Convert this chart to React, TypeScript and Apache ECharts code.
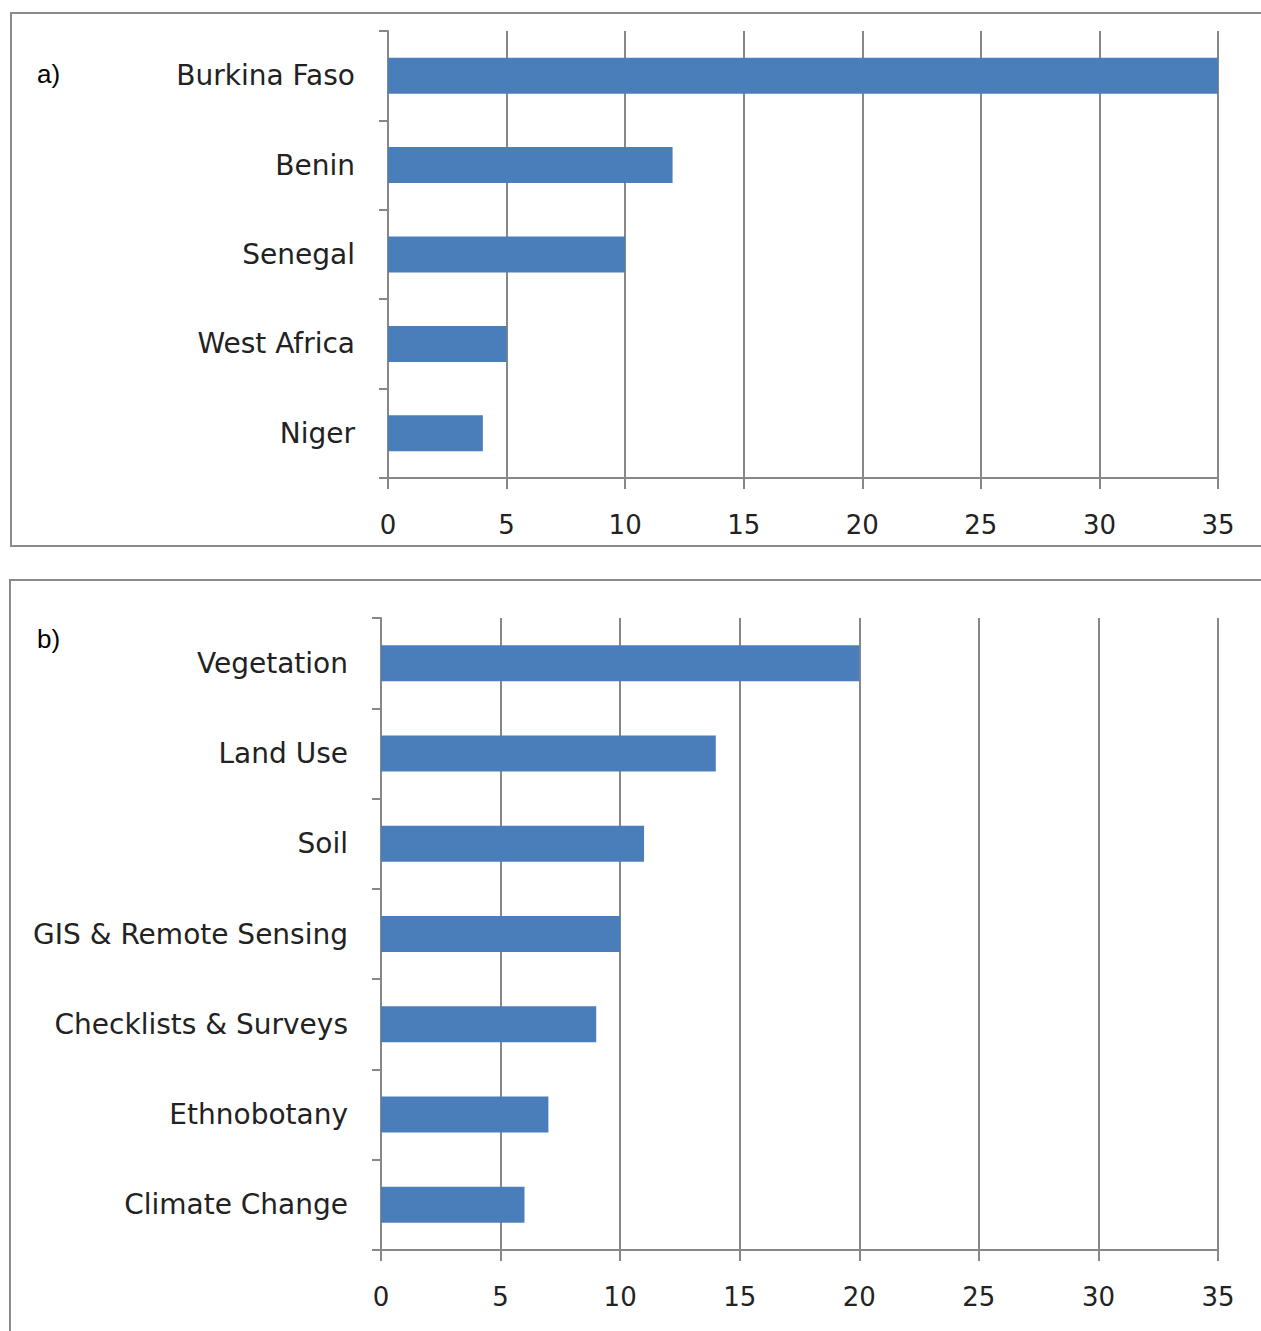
import React, { useEffect, useRef } from "react";
import * as echarts from "echarts";

const regionCategories = ["Burkina Faso", "Benin", "Senegal", "West Africa", "Niger"];
const regionValues = [35, 12, 10, 5, 4];

const topicCategories = [
  "Vegetation",
  "Land Use",
  "Soil",
  "GIS & Remote Sensing",
  "Checklists & Surveys",
  "Ethnobotany",
  "Climate Change",
];
const topicValues = [20, 14, 11, 10, 9, 7, 6];

const panelLabels = ["a)", "b)"];

const AXIS_GRAY = "#878787";
const BAR_BLUE = "#4a7ebb";
const TEXT = "#222222";
const FONT = "'DejaVu Sans', sans-serif";

export default function App() {
  const ref = useRef<HTMLDivElement>(null);
  useEffect(() => {
    if (!ref.current) return;
    const chart = echarts.init(ref.current, undefined, { renderer: "svg" });
    const mkX = (idx: number) => ({
      type: "value",
      gridIndex: idx,
      min: 0,
      max: 35,
      interval: 5,
      axisLine: { show: true, lineStyle: { color: AXIS_GRAY, width: 2 } },
      axisTick: { show: true, length: 11, lineStyle: { color: AXIS_GRAY, width: 2 } },
      splitLine: { show: true, lineStyle: { color: AXIS_GRAY, width: 2 } },
      axisLabel: { color: TEXT, fontSize: 26, fontFamily: FONT, margin: 34 },
    });
    const mkY = (idx: number, cats: string[]) => ({
      type: "category",
      gridIndex: idx,
      data: cats,
      inverse: true,
      axisLine: { show: true, lineStyle: { color: AXIS_GRAY, width: 2 } },
      axisTick: { show: true, length: 9, lineStyle: { color: AXIS_GRAY, width: 2 } },
      axisLabel: { color: TEXT, fontSize: 28, fontFamily: FONT, margin: 33 },
    });
    chart.setOption({
      animation: false,
      graphic: [
        {
          type: "rect",
          shape: { x: 11, y: 13, width: 1270, height: 533 },
          style: { fill: "none", stroke: "#8a8a8a", lineWidth: 2 },
        },
        {
          type: "rect",
          shape: { x: 10, y: 580, width: 1270, height: 780 },
          style: { fill: "none", stroke: "#8a8a8a", lineWidth: 2 },
        },
        {
          type: "text",
          x: 37,
          y: 61,
          style: { text: panelLabels[0], fill: "#000", font: "26px 'Liberation Sans', sans-serif" },
        },
        {
          type: "text",
          x: 37,
          y: 626,
          style: { text: panelLabels[1], fill: "#000", font: "26px 'Liberation Sans', sans-serif" },
        },
      ],
      grid: [
        { left: 388, top: 31, width: 830, height: 447 },
        { left: 381, top: 618, width: 837, height: 632 },
      ],
      xAxis: [mkX(0), mkX(1)],
      yAxis: [mkY(0, regionCategories), mkY(1, topicCategories)],
      series: [
        {
          type: "bar",
          xAxisIndex: 0,
          yAxisIndex: 0,
          data: regionValues,
          barWidth: 36,
          itemStyle: { color: BAR_BLUE },
        },
        {
          type: "bar",
          xAxisIndex: 1,
          yAxisIndex: 1,
          data: topicValues,
          barWidth: 36,
          itemStyle: { color: BAR_BLUE },
        },
      ],
    });
    return () => chart.dispose();
  }, []);
  return (
    <div
      ref={ref}
      style={{ position: "absolute", left: 0, top: 0, width: 1261, height: 1331, background: "#fff" }}
    />
  );
}
